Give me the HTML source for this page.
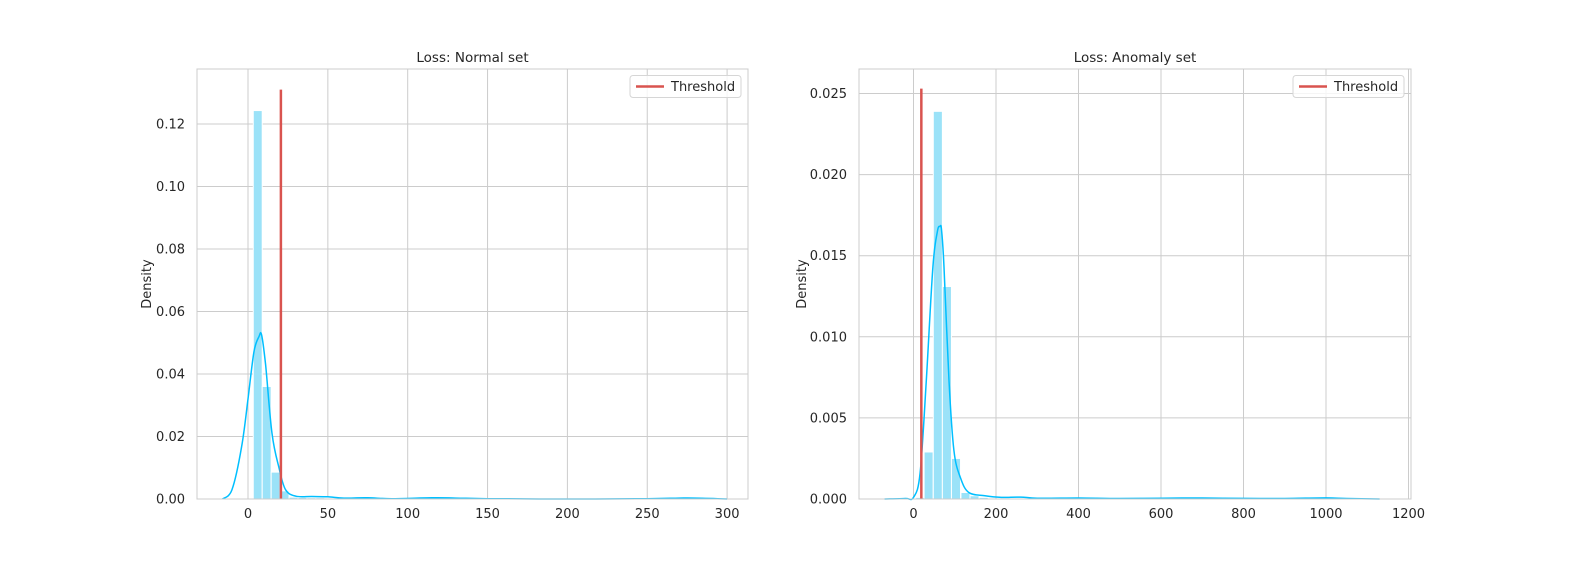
<!DOCTYPE html>
<html><head><meta charset="utf-8"><style>
html,body{margin:0;padding:0;background:#fff;overflow:hidden;width:1584px;height:576px}
svg{display:block;font-family:"DejaVu Sans","Liberation Sans",sans-serif}
</style></head><body>
<svg id="c" width="1584" height="576" viewBox="0 0 1584 576"></svg>
<script>
// Normal set data
const nBinStarts=[3.3,8.9,14.5,20.1,25.7,31.3,36.9,42.5,48.1,53.7];
const nBinDens=[0.1243,0.036,0.0086,0.0026,0.0006,0.0005,0.0004,0.0004,0.0003,0.0002];
const nBinW=5.6;
const nKdeX=[-16,-10,-4,0,3.7,6.9,8.5,11,15,19.4,23.5,30,40,50,60,75,90,115,130,150,200,250,270,280,300];
const nKdeY=[0,0.003,0.0167,0.032,0.047,0.052,0.0525,0.043,0.021,0.01,0.003,0.0009,0.0008,0.0007,0.0003,0.0004,0.0001,0.0004,0.0003,0.0001,0,0.0001,0.0003,0.0003,0];
const nThreshold=20.6, nThreshTop=0.131;
const nXTicks=[0,50,100,150,200,250,300];
const nYTicks=[0,0.02,0.04,0.06,0.08,0.10,0.12];
// Anomaly set data
const aBinStarts=[5.5,25.7,48,70,92,115,137,159];
const aBinDens=[0.0001,0.0029,0.0239,0.0131,0.0025,0.0004,0.0002,0.0001];
const aBinW=22;
const aKdeX=[-70,-20,0,16,31,47,58,64,68,74,86,98,114,134,173,213,260,300,400,500,600,700,800,900,1000,1050,1130];
const aKdeY=[0,0.00003,0.0001,0.0016,0.0073,0.0143,0.0165,0.0168,0.0166,0.0143,0.0073,0.003,0.0013,0.0004,0.0002,0.0001,0.00012,0.00005,0.00006,0.00003,0.00005,0.00006,0.00004,0.00003,0.00007,0.00003,0];
const aThreshold=19, aThreshTop=0.0253;
const aXTicks=[0,200,400,600,800,1000,1200];
const aYTicks=[0,0.005,0.010,0.015,0.020,0.025];

const NS='http://www.w3.org/2000/svg';
const svg=document.getElementById('c');
function mk(tag,attrs,parent){const e=document.createElementNS(NS,tag);for(const k in attrs)e.setAttribute(k,attrs[k]);(parent||svg).appendChild(e);return e;}
function smooth(pts){
  let d='M'+pts[0][0].toFixed(1)+','+pts[0][1].toFixed(1);
  for(let i=0;i<pts.length-1;i++){
    const p0=pts[i-1]||pts[i],p1=pts[i],p2=pts[i+1],p3=pts[i+2]||p2;
    const c1=[p1[0]+(p2[0]-p0[0])/6,p1[1]+(p2[1]-p0[1])/6];
    const c2=[p2[0]-(p3[0]-p1[0])/6,p2[1]-(p3[1]-p1[1])/6];
    d+=' C'+c1.map(v=>v.toFixed(1)).join(',')+' '+c2.map(v=>v.toFixed(1)).join(',')+' '+p2.map(v=>v.toFixed(1)).join(',');
  }
  return d;
}

function panel(p){
  const g=mk('g',{});
  
  
  const sx=v=>p.x0+v*p.kx, sy=v=>p.y0-v*p.ky;
  p.xt.forEach(t=>{const l=mk('line',{x1:sx(t),x2:sx(t),y1:p.top,y2:p.y0,stroke:'#cccccc','stroke-width':1},g);
    
    const tx=mk('text',{x:sx(t),y:p.y0+19,'font-size':13,'text-anchor':'middle',fill:'#262626'},g);tx.textContent=t;
    });
  p.yt.forEach(t=>{const l=mk('line',{x1:p.left,x2:p.right,y1:sy(t),y2:sy(t),stroke:'#cccccc','stroke-width':1},g);
    
    const tx=mk('text',{x:p.left-12,y:sy(t)+4.5,'font-size':13,'text-anchor':'end',fill:'#262626'},g);tx.textContent=t.toFixed(p.dec);
    });
  p.bs.forEach((b,i)=>{const h=p.bd[i]*p.ky;const r=mk('rect',{x:sx(b),y:p.y0-h,width:p.bw*p.kx,height:h,fill:'#9be2f8',stroke:'#ffffff','stroke-width':1},g);
    });
  const pts=p.kx_.map((x,i)=>[sx(x),sy(p.ky_[i])]);
  const k=mk('path',{d:smooth(pts),fill:'none',stroke:'#00bfff','stroke-width':1.5,'stroke-linejoin':'round'},g);
  
  const th=mk('line',{x1:sx(p.th),x2:sx(p.th),y1:p.y0,y2:sy(p.thTop),stroke:'#d9534f','stroke-width':2.5},g);
  
  const fr=mk('rect',{x:p.left,y:p.top,width:p.right-p.left,height:p.y0-p.top,fill:'none',stroke:'#cccccc','stroke-width':1},g);
  
  const ti=mk('text',{x:(p.left+p.right)/2,y:62,'font-size':13.5,'text-anchor':'middle',fill:'#262626'},g);ti.textContent=p.title;
  
  const yl=mk('text',{x:0,y:0,'font-size':13,'text-anchor':'middle',fill:'#262626',transform:`translate(${p.ylx},${(p.top+p.y0)/2}) rotate(-90)`},g);yl.textContent='Density';
  
  const lg=mk('g',{},g);
  mk('rect',{x:p.right-118,y:75.5,width:111,height:22,rx:3,fill:'#fff','fill-opacity':0.8,stroke:'#d6d6d6'},lg);
  mk('line',{x1:p.right-112,x2:p.right-84,y1:86.5,y2:86.5,stroke:'#d9534f','stroke-width':2.5},lg);
  const lt=mk('text',{x:p.right-77,y:91,'font-size':13,fill:'#262626'},lg);lt.textContent='Threshold';
  
}
panel({name:'normal-set-panel',title:'Loss: Normal set',left:197,right:748,top:69,y0:499,x0:248,kx:1.597,ky:3125,
  xt:nXTicks,yt:nYTicks,dec:2,bs:nBinStarts,bd:nBinDens,bw:nBinW,kx_:nKdeX,ky_:nKdeY,th:nThreshold,thTop:nThreshTop,ylx:151});
panel({name:'anomaly-set-panel',title:'Loss: Anomaly set',left:859,right:1411,top:69,y0:499,x0:913.5,kx:0.4125,ky:16220,
  xt:aXTicks,yt:aYTicks,dec:3,bs:aBinStarts,bd:aBinDens,bw:aBinW,kx_:aKdeX,ky_:aKdeY,th:aThreshold,thTop:aThreshTop,ylx:806});
</script>
</body></html>
